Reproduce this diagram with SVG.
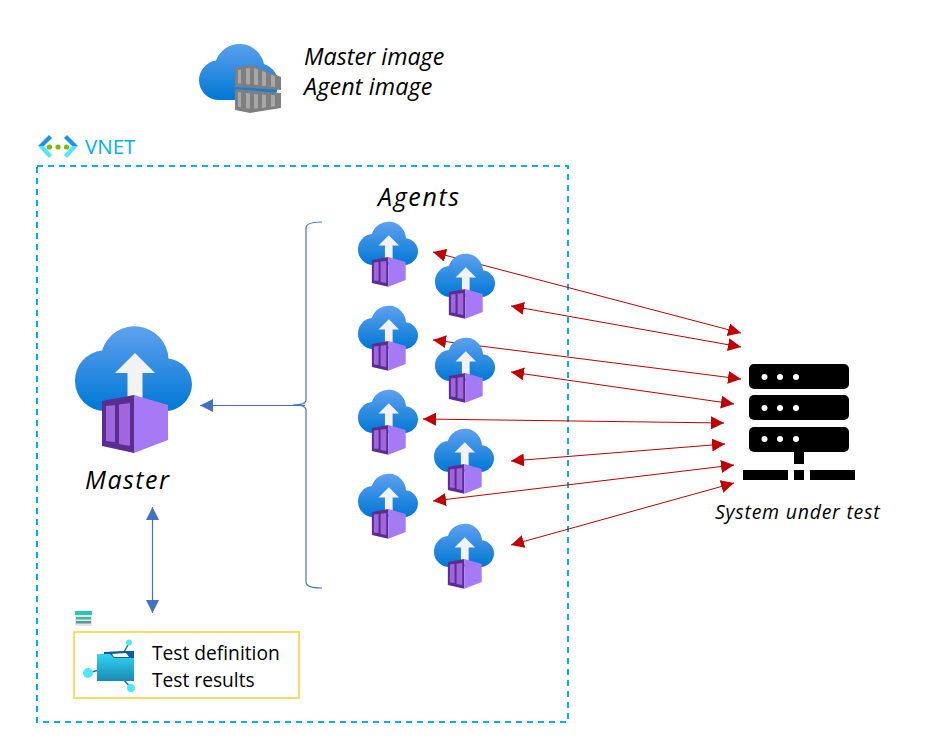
<svg xmlns="http://www.w3.org/2000/svg" xmlns:xlink="http://www.w3.org/1999/xlink" width="929" height="755" viewBox="0 0 929 755">
<style>
text{font-family:"Open Sans","Noto Sans","Liberation Sans",sans-serif;fill:#000}
.i{font-style:italic}
.red{fill:none;stroke:#c00000;stroke-width:1;marker-start:url(#rs);marker-end:url(#re)}
.blue{fill:none;stroke:#4472c4;stroke-width:1.200}
.srv{fill:#000}
.dot{fill:#fff}
</style>
<defs>
<linearGradient id="cg" gradientUnits="userSpaceOnUse" x1="0" y1="327" x2="0" y2="411"><stop offset="0" stop-color="#5ea0ef"/><stop offset="1" stop-color="#0078d4"/></linearGradient>
<linearGradient id="cg2" gradientUnits="userSpaceOnUse" x1="0" y1="42" x2="0" y2="100"><stop offset="0" stop-color="#5ea0ef"/><stop offset="1" stop-color="#0078d4"/></linearGradient>
<linearGradient id="fg" x1="0" y1="0" x2="0" y2="1"><stop offset="0" stop-color="#32d4f5"/><stop offset="1" stop-color="#198ab3"/></linearGradient>
<marker id="re" viewBox="0 0 13 13" refX="13" refY="6.500" markerWidth="13" markerHeight="13" orient="auto" markerUnits="userSpaceOnUse"><path d="M0 0L13 6.500L0 13z" fill="#c00000"/></marker>
<marker id="rs" viewBox="0 0 13 13" refX="0" refY="6.500" markerWidth="13" markerHeight="13" orient="auto" markerUnits="userSpaceOnUse"><path d="M13 0L0 6.500L13 13z" fill="#c00000"/></marker>
<marker id="bs" viewBox="0 0 13 13" refX="0" refY="6.500" markerWidth="13" markerHeight="13" orient="auto" markerUnits="userSpaceOnUse"><path d="M13 0L0 6.500L13 13z" fill="#4472c4"/></marker>
<marker id="be" viewBox="0 0 13 13" refX="13" refY="6.500" markerWidth="13" markerHeight="13" orient="auto" markerUnits="userSpaceOnUse"><path d="M0 0L13 6.500L0 13z" fill="#4472c4"/></marker>
<g id="ci">
<path fill="url(#cg)" d="M105 411A30 30 0 0 1 75 381A30 30 0 0 1 102 350.500A34 34 0 0 1 168.500 358.500A26.500 26.500 0 0 1 192 384A27 27 0 0 1 166 411Z"/>
<path fill="#f2f2f2" d="M135 353L155 373H142.500V405H127.500V373H115Z"/>
<path fill="#5c2d91" d="M134 395L102 401V446L134 453Z"/>
<path fill="#a67af4" d="M134 395L168 405V440L134 453Z"/>
<path fill="#9f66de" d="M106 406L115 405V442L106 441ZM119 404.500L130 403V446L119 444Z"/>
</g>
</defs>
<rect width="929" height="755" fill="#fff"/>

<g id="registry">
<path fill="url(#cg2)" d="M219 100A20 20 0 0 1 199 80A20 20 0 0 1 216 60.500A25 25 0 0 1 264 64A20 20 0 0 1 278 80A20 20 0 0 1 270 100Z"/>
<path fill="#7f7f7f" d="M235 68L252 65L281 77V90L235 87Z"/>
<path fill="#a8a8a8" d="M238 70l3 -.5v14l-3-.3zM246 68.500l4 -.5v16.500l-4-.4zM254 68l4 1.500v15.500l-4-.3zM262 71l4 1.500v13.500l-4-.3zM271 74.500l4 1.500v11l-4-.3z"/>
<path fill="#7f7f7f" d="M235 89L281 93V108L250 113L235 110Z"/>
<path fill="#a8a8a8" d="M238 92l3 .3v15l-3-.5zM246 93l4 .3v15.500l-4-.6zM254 94l4 .3v14l-4 .5zM262 94.500l4 .3v12.500l-4 .6zM271 95l4 .3v11l-4 .6z"/>
<text class="i" x="304" y="65" font-size="23.300">Master image</text>
<text class="i" x="304" y="95" font-size="23.300" letter-spacing=".15">Agent image</text>
</g>

<g id="vnet">
<path fill="#1b93eb" d="M38 146L49 135L52 138L44 146Z"/>
<path fill="#50e6ff" d="M38 146L49 158L52 155L44 146Z"/>
<path fill="#1b93eb" d="M78 146L67 135L64 138L72 146Z"/>
<path fill="#50e6ff" d="M78 146L67 158L64 155L72 146Z"/>
<circle cx="49.500" cy="147" r="2.600" fill="#7fba00"/><circle cx="58" cy="147" r="2.600" fill="#7fba00"/><circle cx="66.500" cy="147" r="2.600" fill="#7fba00"/>
<text x="85" y="154" font-size="20.500" style="fill:#00b0f0">VNET</text>
<rect x="37" y="166" width="531" height="556" fill="none" stroke="#00b0f0" stroke-width="2" stroke-dasharray="6 5"/>
</g>

<g id="connectors">
<path class="blue" d="M322 222Q306 222 306 228V400Q306 405 293 405Q306 405 306 410V582Q306 588 322 588"/>
<path class="blue" d="M305 405.500H200" marker-end="url(#be)"/>
<path class="blue" d="M152.500 507V613" marker-start="url(#bs)" marker-end="url(#be)"/>
<path class="red" d="M433 252L741 333"/>
<path class="red" d="M511 306L741 347"/>
<path class="red" d="M433 340L741 379"/>
<path class="red" d="M511 372L734 404"/>
<path class="red" d="M423 419L724 423"/>
<path class="red" d="M511 461L725 444"/>
<path class="red" d="M433 501L734 465"/>
<path class="red" d="M511 545L734 483"/>
</g>

<g id="master">
<use href="#ci"/>
<text class="i" x="85" y="489" font-size="25" letter-spacing="1.500">Master</text>
</g>

<g id="agents-label"><text class="i" x="378" y="206" font-size="25" letter-spacing="1.650">Agents</text></g>
<g id="agent1"><use href="#ci" transform="translate(358 222) scale(.513) translate(-75 -327)"/></g>
<g id="agent2"><use href="#ci" transform="translate(435 254) scale(.513) translate(-75 -327)"/></g>
<g id="agent3"><use href="#ci" transform="translate(358 306) scale(.513) translate(-75 -327)"/></g>
<g id="agent4"><use href="#ci" transform="translate(435 338) scale(.513) translate(-75 -327)"/></g>
<g id="agent5"><use href="#ci" transform="translate(358 390) scale(.513) translate(-75 -327)"/></g>
<g id="agent6"><use href="#ci" transform="translate(434 429) scale(.513) translate(-75 -327)"/></g>
<g id="agent7"><use href="#ci" transform="translate(358 474) scale(.513) translate(-75 -327)"/></g>
<g id="agent8"><use href="#ci" transform="translate(434 524) scale(.513) translate(-75 -327)"/></g>

<g id="system">
<rect class="srv" x="749" y="364" width="100" height="25" rx="5"/>
<rect class="srv" x="749" y="395" width="100" height="25" rx="5"/>
<rect class="srv" x="749" y="427" width="100" height="25" rx="5"/>
<g class="dot"><circle cx="764.500" cy="377" r="3"/><circle cx="780" cy="377" r="3"/><circle cx="796" cy="377" r="3"/>
<circle cx="764.500" cy="408" r="3"/><circle cx="780" cy="408" r="3"/><circle cx="796" cy="408" r="3"/>
<circle cx="764.500" cy="439" r="3"/><circle cx="780" cy="439" r="3"/><circle cx="796" cy="439" r="3"/></g>
<rect class="srv" x="794" y="452" width="10" height="12"/>
<rect class="srv" x="743" y="470" width="45" height="10"/><rect class="srv" x="794" y="470" width="10" height="10"/><rect class="srv" x="810" y="470" width="45" height="10"/>
<text class="i" x="715" y="519" font-size="19.500" letter-spacing=".75">System under test</text>
</g>

<g id="storage">
<rect x="75" y="611" width="17" height="15" rx="1" fill="#e4e4e4"/>
<rect x="75" y="611" width="17" height="4" fill="#2cc6b4"/>
<rect x="76" y="617" width="15" height="2.500" fill="#3fb8a8"/>
<rect x="76" y="621" width="15" height="2.500" fill="#5b9a90"/>
<rect x="74" y="632" width="225" height="66" fill="none" stroke="#ffd966" stroke-width="2"/>
<path fill="none" stroke="#1f6fb0" stroke-width="1.500" d="M129 643L124 652M88 673L99 670M124 680L131 688"/>
<path fill="#0f5f9e" d="M104 652L122 651L134 651V670H104Z"/>
<path fill="#fff" d="M112 654L126 653L129 657H114Z"/>
<path fill="url(#fg)" d="M97 654H110L114 658H134V681H97Z"/>
<circle cx="129" cy="642.500" r="3" fill="#50e6ff"/><circle cx="88" cy="673" r="5" fill="#50e6ff"/><circle cx="131" cy="688" r="4" fill="#50e6ff"/>
<text x="152" y="660" font-size="19.200">Test definition</text>
<text x="152" y="687" font-size="19.200">Test results</text>
</g>
</svg>
